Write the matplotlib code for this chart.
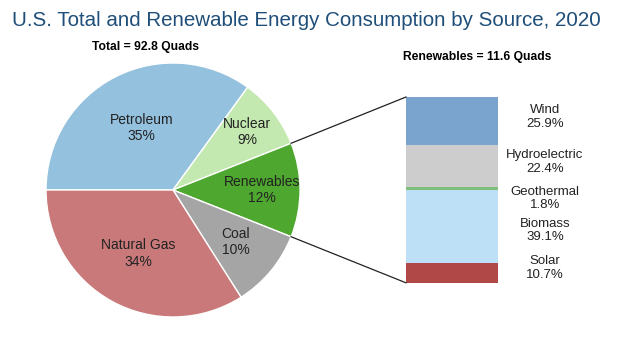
import matplotlib.pyplot as plt
import numpy as np

plt.rcParams['font.family'] = ['Liberation Sans', 'DejaVu Sans']

# total consumption shares (%)
sources = ['Petroleum', 'Nuclear', 'Renewables', 'Coal', 'Natural Gas']
shares = [35, 9, 12, 10, 34]
pie_colors = ['#93c1de', '#c3e9b1', '#4ea72e', '#a5a5a5', '#c97979']

# renewables breakdown (%), top to bottom
renew = ['Wind', 'Hydroelectric', 'Geothermal', 'Biomass', 'Solar']
renew_pct = [25.9, 22.4, 1.8, 39.1, 10.7]
renew_txt = ['25.9%', '22.4%', '1.8%', '39.1%', '10.7%']
bar_colors = ['#7aa3cd', '#cdcdcd', '#7cc07c', '#bde0f6', '#b04848']

W, H = 640, 362
fig = plt.figure(figsize=(6.4, 3.62), dpi=100)
ax = fig.add_axes([0, 0, 1, 1])
ax.set_xlim(0, W)
ax.set_ylim(0, H)
ax.set_aspect('equal')
ax.axis('off')

# pie
cx, cy, R = 173, 172, 127
explode = [0, 0, 0.05, 0, 0]
wedges, _ = ax.pie(shares, colors=pie_colors, startangle=180, counterclock=False,
                   center=(cx, cy), radius=R, explode=explode,
                   wedgeprops=dict(edgecolor='white', linewidth=1.0))
ax.set_xlim(0, W)
ax.set_ylim(0, H)

label_dist = [0.55, 0.74, 0.70, 0.64, 0.57]
for w, name, s, d in zip(wedges, sources, shares, label_dist):
    ang = np.deg2rad((w.theta1 + w.theta2) / 2)
    x0, y0 = w.center
    ax.text(x0 + d * R * np.cos(ang), y0 + d * R * np.sin(ang), f'{name}\n{s}%',
            ha='center', va='center', fontsize=10, color='#222222', linespacing=1.2)

# stacked bar of renewables
bar_x, bar_w = 452, 92
bar_top, bar_h = 265, 186
scale = bar_h / 100
top = bar_top
seg_mid = []
for p, c in zip(renew_pct, bar_colors):
    ax.bar(bar_x, p * scale, bottom=top - p * scale, width=bar_w, color=c, linewidth=0)
    seg_mid.append(top - p * scale / 2)
    top -= p * scale

nudge = [4, 4, -10, -4, 5]
for name, t, ym, n in zip(renew, renew_txt, seg_mid, nudge):
    ax.text(545, ym + n, f'{name}\n{t}', ha='center', va='center', fontsize=9.5,
            color='#222222', linespacing=1.2)

# connector lines from the renewables wedge to the bar
rw = wedges[2]
x0, y0 = rw.center
for th, yb in [(rw.theta2, bar_top), (rw.theta1, top)]:
    a = np.deg2rad(th)
    ax.plot([x0 + R * np.cos(a), bar_x - bar_w / 2], [y0 + R * np.sin(a), yb],
            color='#222222', linewidth=0.9)

fig.text(12 / W, 1 - 20 / H, 'U.S. Total and Renewable Energy Consumption by Source, 2020',
         ha='left', va='center', fontsize=14.8, color='#1f4e79')
fig.text(145 / W, 1 - 47 / H, 'Total = 92.8 Quads', ha='center', va='center',
         fontsize=8.7, fontweight='bold')
fig.text(477 / W, 1 - 57 / H, 'Renewables = 11.6 Quads', ha='center', va='center',
         fontsize=8.7, fontweight='bold')

fig.savefig('out.png', dpi=100, facecolor='white')
